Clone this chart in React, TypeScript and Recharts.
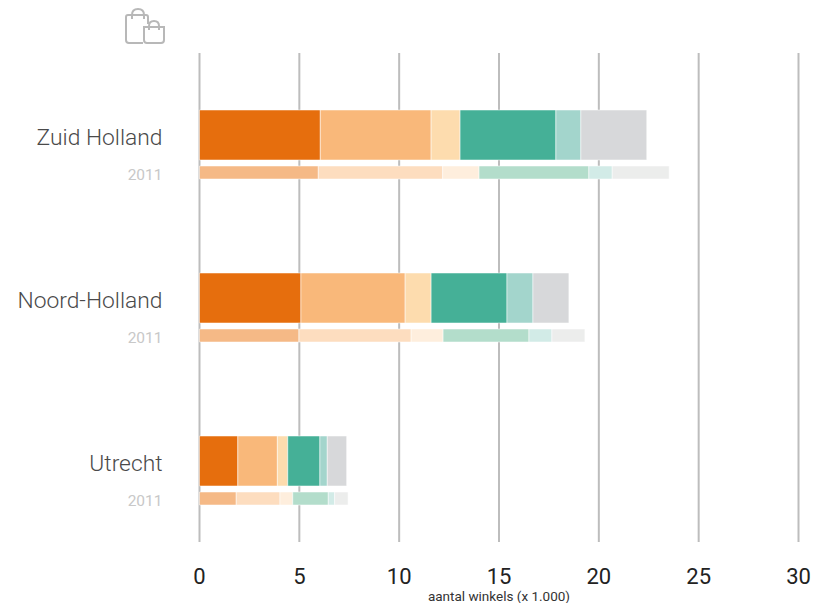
import { Bar, BarChart, CartesianGrid, XAxis, YAxis } from "recharts"

const regions = ["Zuid Holland", "Noord-Holland", "Utrecht"]
const axisTicks = [0, 5, 10, 15, 20, 25, 30]

// segment values per region, recent year (x 1.000)
const seg1 = [6.05, 5.08, 1.92]
const seg2 = [5.55, 5.22, 1.98]
const seg3 = [1.45, 1.3, 0.52]
const seg4 = [4.8, 3.8, 1.61]
const seg5 = [1.25, 1.3, 0.37]
const seg6 = [3.3, 1.8, 0.97]

// same segments, 2011
const old1 = [5.95, 4.98, 1.84]
const old2 = [6.23, 5.62, 2.19]
const old3 = [1.82, 1.6, 0.64]
const old4 = [5.5, 4.3, 1.78]
const old5 = [1.17, 1.15, 0.32]
const old6 = [2.85, 1.65, 0.67]

const colors = ["#e66e0d", "#f9b87a", "#fddcae", "#45b097", "#a3d5cc", "#d7d8da"]
const oldColors = ["#f5b986", "#fdddbf", "#feeedd", "#b3ddcb", "#d2ebe7", "#ecedec"]

const current = [seg1, seg2, seg3, seg4, seg5, seg6]
const previous = [old1, old2, old3, old4, old5, old6]

const data = regions.map((region, i) => {
  const row: Record<string, string | number> = { region }
  current.forEach((s, k) => (row["cur" + k] = s[i]))
  previous.forEach((s, k) => (row["old" + k] = s[i]))
  return row
})

function RegionTick({ x, y, payload }: any) {
  return (
    <g>
      <text x={x} y={y} textAnchor="end" fontSize={22.8} fontWeight={300} fill="#4a4a4a">
        {payload.value}
      </text>
      <text x={x} y={y + 35} textAnchor="end" fontSize={15.5} fill="#c8c8c8">
        2011
      </text>
    </g>
  )
}

function BagsIcon() {
  return (
    <svg
      width={60}
      height={50}
      style={{ position: "absolute", left: 115, top: 3 }}
      fill="none"
      stroke="#b8b8b8"
      strokeWidth={2}
    >
      <path d="M28 40 H14 Q11 40 11 37 V14 Q11 12 13 12 H31 Q33 12 33 14 V21" />
      <path d="M17 16 V12 Q17 6 23 6 Q29 6 29 12 V16" />
      <path d="M29 24 H49 V37 Q49 40 46 40 H32 Q29 40 29 37 Z" />
      <path d="M34 27 V23 Q34 18 39 18 Q44 18 44 23 V27" />
    </svg>
  )
}

export default function App() {
  return (
    <div style={{ position: "absolute", left: 0, top: 0, width: 814, height: 603, fontFamily: "Roboto" }}>
      <BagsIcon />
      <BarChart
        width={814}
        height={603}
        data={data}
        layout="vertical"
        barGap={6}
        margin={{ top: 53, right: 15.5, bottom: 0, left: 0 }}
      >
        <CartesianGrid horizontal={false} stroke="#bdbdbd" strokeWidth={2} />
        <XAxis
          type="number"
          domain={[0, 30]}
          ticks={axisTicks}
          height={61}
          axisLine={false}
          tickLine={false}
          tickMargin={20}
          tick={{ fontSize: 22, fill: "#222" }}
          label={{ value: "aantal winkels (x 1.000)", position: "insideBottom", offset: 2, fontSize: 13.5, fontWeight: 400, fill: "#333" }}
        />
        <YAxis
          type="category"
          dataKey="region"
          width={199.5}
          padding={{ top: 10, bottom: -10 }}
          axisLine={false}
          tickLine={false}
          tickMargin={31}
          tick={<RegionTick />}
        />
        {colors.map((c, k) => (
          <Bar
            key={"cur" + k}
            dataKey={"cur" + k}
            stackId="cur"
            barSize={50}
            fill={c}
            stroke="#fff"
            strokeOpacity={0.5}
            isAnimationActive={false}
          />
        ))}
        {oldColors.map((c, k) => (
          <Bar
            key={"old" + k}
            dataKey={"old" + k}
            stackId="old"
            barSize={13}
            fill={c}
            stroke="#fff"
            strokeOpacity={0.5}
            isAnimationActive={false}
          />
        ))}
      </BarChart>
    </div>
  )
}
